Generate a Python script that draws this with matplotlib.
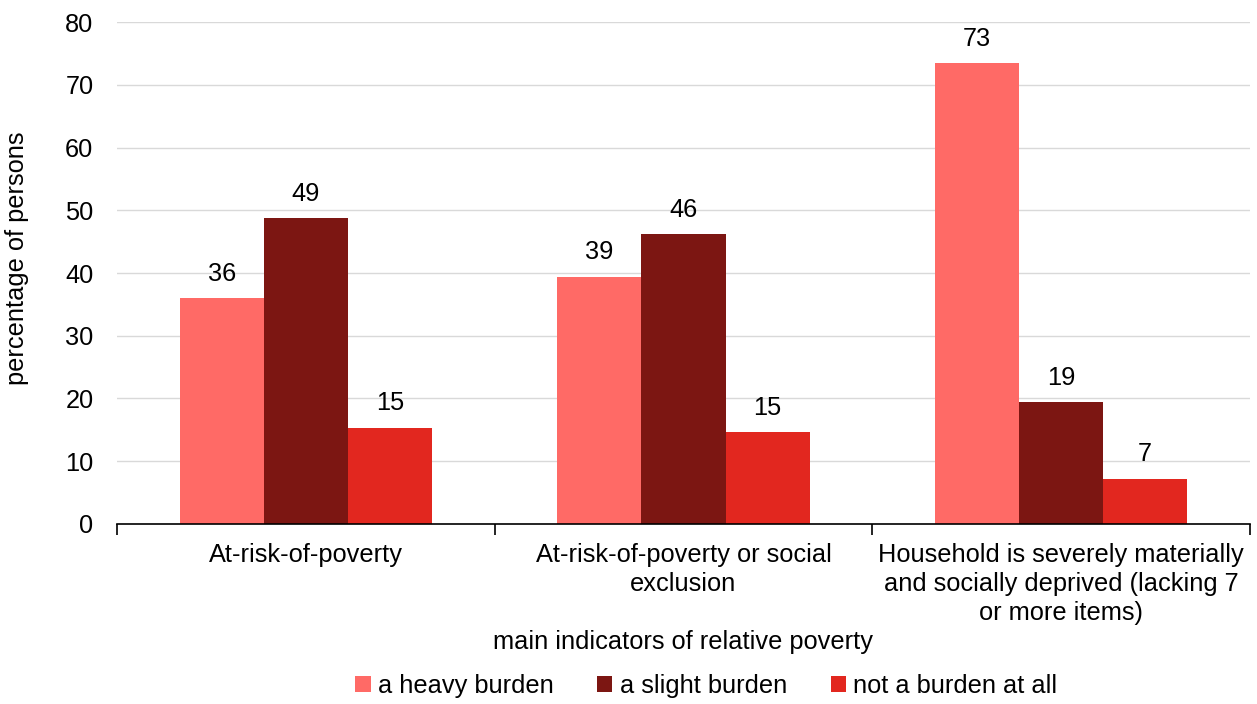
import numpy as np
import matplotlib.pyplot as plt

plt.rcParams['font.family'] = ['Liberation Sans', 'DejaVu Sans']

categorias = [
    "At-risk-of-poverty",
    "At-risk-of-poverty or social\nexclusion",
    "Household is severely materially\nand socially deprived (lacking 7\nor more items)",
]
series = ["a heavy burden", "a slight burden", "not a burden at all"]
heavy = [36.0, 39.4, 73.4]
slight = [48.7, 46.2, 19.4]
not_burden = [15.3, 14.6, 7.2]
colores = ["#FF6A66", "#7C1612", "#E2271F"]

fs = 18.3

fig = plt.figure(figsize=(12.57, 7.04), dpi=100)
ax = fig.add_axes([0.0931, 0.2557, 0.9013, 0.713])

x = np.arange(len(categorias))
ancho = 0.2225
for i, (vals, nombre, color) in enumerate(zip([heavy, slight, not_burden], series, colores)):
    pos = x + (i - 1) * ancho
    barras = ax.bar(pos, vals, width=ancho, color=color, label=nombre, zorder=2)
    for b, v in zip(barras, vals):
        ax.annotate(f"{v:.0f}", (b.get_x() + b.get_width() / 2, v),
                    xytext=(0, 9), textcoords="offset points",
                    ha="center", va="bottom", fontsize=fs)

ax.set_xlim(-0.5, 2.5)
ax.set_ylim(0, 80)
ax.set_yticks(range(0, 81, 10))
ax.grid(axis="y", color="#d9d9d9", linewidth=1, zorder=0)

# eje x con marcas en los limites de cada categoria
ax.set_xticks(x)
ax.set_xticklabels(categorias, fontsize=fs, linespacing=1.25)
ax.set_xticks([-0.5, 0.5, 1.5, 2.5], minor=True)
ax.tick_params(axis="x", which="major", length=0, pad=14)
ax.tick_params(axis="x", which="minor", length=8, width=1.2, direction="out")
ax.tick_params(axis="y", length=0, labelsize=fs, pad=17)

for lado in ["top", "right", "left"]:
    ax.spines[lado].set_visible(False)
ax.spines["bottom"].set_linewidth(1.2)

ax.set_ylabel("percentage of persons", fontsize=fs)
ax.yaxis.set_label_coords(-0.0777, 0.53)
ax.set_xlabel("main indicators of relative poverty", fontsize=fs, labelpad=4)

fig.legend(*ax.get_legend_handles_labels(), loc="center",
           bbox_to_anchor=(0.562, 0.026), ncol=3, frameon=False,
           fontsize=fs, handlelength=0.6, handleheight=0.6, handletextpad=0.3,
           columnspacing=1.7)

fig.savefig("out.png", dpi=100)
